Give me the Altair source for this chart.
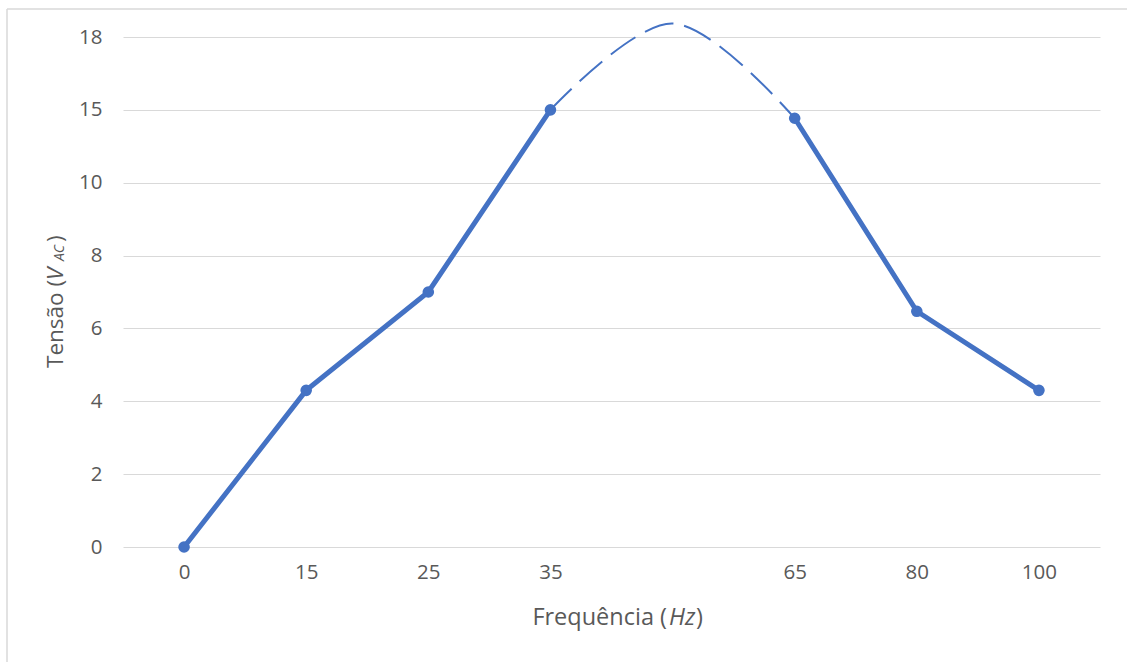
import altair as alt
import pandas as pd

# Category axis (the blank slot is the gap between 35 and 65 Hz)
categories = ["0", "15", "25", "35", " ", "65", "80", "100"]

# Measured points (values in the chart's axis units; ticks 12 and 14 are labelled 15 and 18)
freq = ["0", "15", "25", "35", "65", "80", "100"]
tensao = [0.0, 4.3, 7.0, 12.0, 11.77, 6.47, 4.3]
segment = ["a", "a", "a", "a", "b", "b", "b"]

# Dashed extrapolated arc between 35 and 65 Hz
arc_freq = ["35", " ", "65"]
arc_tensao = [12.0, 14.37, 11.77]

y_ticks = [0, 2, 4, 6, 8, 10, 12, 14]

BLUE = "#4472C4"
GREY = "#595959"
FONT = "Open Sans"

pts = pd.DataFrame({"freq": freq, "tensao": tensao, "seg": segment})
arc = pd.DataFrame({"freq": arc_freq, "tensao": arc_tensao})

x_enc = alt.X(
    "freq:N",
    scale=alt.Scale(domain=categories, type="point", padding=0.5),
    sort=categories,
    axis=alt.Axis(
        title=None, domain=False, ticks=False, grid=False, labelAngle=0,
        labelFont=FONT, labelFontSize=20.5, labelColor=GREY, labelPadding=15,
    ),
)
y_enc = alt.Y(
    "tensao:Q",
    scale=alt.Scale(domain=[0, 14], nice=False, zero=True),
    axis=alt.Axis(
        title=None, values=y_ticks, domain=False, ticks=False,
        labelExpr="datum.value == 12 ? '15' : (datum.value == 14 ? '18' : datum.label)",
        labelFont=FONT, labelFontSize=20.5, labelColor=GREY, labelPadding=21,
        gridColor="#d9d9d9", gridWidth=1.2,
    ),
)

dashed = alt.Chart(arc).mark_line(
    color=BLUE, strokeWidth=2, strokeDash=[30, 11], interpolate="catmull-rom"
).encode(x=x_enc, y=y_enc)

solid = alt.Chart(pts).mark_line(color=BLUE, strokeWidth=5).encode(
    x=x_enc, y=y_enc, detail="seg:N"
)

dots = alt.Chart(pts).mark_circle(color=BLUE, opacity=1, size=135).encode(
    x=x_enc, y=y_enc
)

one = pd.DataFrame({"k": [0]})

def txt(text, x, y, align="left", style="normal", size=23, angle=0, baseline="alphabetic"):
    return alt.Chart(one).mark_text(
        text=text, align=align, baseline=baseline, font=FONT, fontSize=size,
        fontStyle=style, color=GREY, angle=angle,
    ).encode(x=alt.value(x), y=alt.value(y))

# x-axis title: Frequência (Hz)
xt1 = txt("Frequência (", 544, 588, align="right", size=23.5)
xt2 = txt("Hz", 546, 588, style="italic", size=23.5)
xt3 = txt(")", 573, 588, size=23.5)

# y-axis title: Tensão (V_AC), rotated
yt1 = txt("Tensão (", -60, 331, align="left", angle=270, size=22.5)
yt2 = txt("V", -60, 243, style="italic", angle=270, size=22.5)
yt3 = txt("AC", -59, 224, style="italic", size=14, angle=270)
yt4 = txt(")", -60, 205, angle=270, size=22.5)

# chart frame (top and left edges)
frame_top = alt.Chart(one).mark_rule(color="#d9d9d9", strokeWidth=1.5).encode(
    x=alt.value(-116), x2=alt.value(1004), y=alt.value(-28)
)
frame_left = alt.Chart(one).mark_rule(color="#d9d9d9", strokeWidth=1.5).encode(
    x=alt.value(-116), y=alt.value(-28), y2=alt.value(625)
)

chart = alt.layer(
    frame_top, frame_left, dashed, solid, dots,
    xt1, xt2, xt3, yt1, yt2, yt3, yt4,
).properties(
    width=977, height=510,
    padding={"left": 123, "top": 37, "right": 27, "bottom": 115},
    autosize=alt.AutoSizeParams(type="none"),
    background="white",
).configure_view(stroke=None)

chart.save("out.html", embed_options={"renderer": "svg", "actions": False})
